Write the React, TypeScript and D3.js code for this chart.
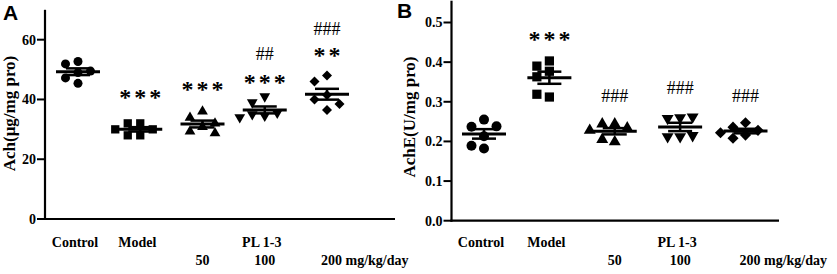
import React from "react";
import * as d3 from "d3";

// ---------- data ----------
const groups = ["Control", "Model", "PL50", "PL100", "PL200"];
const row1Labels = ["Control", "Model", "", "PL 1-3", ""];
const row2Labels = ["", "", "50", "100", "200 mg/kg/day"];
const shapes = ["circle", "square", "triangle", "triangleDown", "diamond"];

// Panel A: Ach (µg/mg pro)
const achControl = [52.7, 51.9, 49.0, 49.5, 47.2, 45.4];
const achModel = [32, 32, 30, 30, 28, 28];
const achPL50 = [36, 33.9, 30.8, 32, 29.3, 28.7];
const achPL100 = [41, 39, 34.5, 35, 35.5, 34];
const achPL200 = [48, 46, 41.5, 40, 38.5, 36.5];
const achTicks = [0, 20, 40, 60];
const achStars = ["", "***", "***", "***", "**"];
const achStarAt = [0, 42, 44.7, 47.2, 56.2];
const achHashes = ["", "", "", "##", "###"];
const achHashAt = [0, 0, 0, 55.3, 63.7];

// Panel B: AchE (U/mg pro)
const acheControl = [0.255, 0.237, 0.238, 0.213, 0.182, 0.189];
const acheModel = [0.403, 0.377, 0.39, 0.363, 0.312, 0.319];
const achePL50 = [0.244, 0.244, 0.234, 0.228, 0.199, 0.205];
const achePL100 = [0.26, 0.258, 0.262, 0.212, 0.212, 0.215];
const achePL200 = [0.247, 0.236, 0.228, 0.222, 0.216, 0.208];
const acheTicks = [0, 0.1, 0.2, 0.3, 0.4, 0.5];
const acheStars = ["", "***", "", "", ""];
const acheStarAt = [0, 0.468, 0, 0, 0];
const acheHashes = ["", "", "###", "###", "###"];
const acheHashAt = [0, 0, 0.314, 0.334, 0.314];

// ---------- styles ----------
const SERIF = "'Liberation Serif', 'Times New Roman', Times, serif";
const SANS = "'Liberation Sans', Arial, Helvetica, sans-serif";

type PanelCfg = {
  letter: string;
  letterX: number;
  letterY: number;
  yLabel: string;
  yLabelX: number;
  yLabelY: number;
  axisX: number;
  xEnd: number;
  yDomain: [number, number];
  yRange: [number, number];
  groupRange: [number, number];
  ticks: number[];
  tickFmt: (v: number) => string;
  values: number[][];
  stars: string[];
  starAt: number[];
  hashes: string[];
  hashAt: number[];
  markerSize: number;
  pitch: number;
};

function symbolPath(shape: string, size: number): { d: string; rot: number } {
  const area = size * size;
  switch (shape) {
    case "circle":
      return { d: d3.symbol(d3.symbolCircle, (Math.PI * area) / 4)() as string, rot: 0 };
    case "square":
      return { d: d3.symbol(d3.symbolSquare, area * 0.85)() as string, rot: 0 };
    case "triangle":
      return { d: d3.symbol(d3.symbolTriangle, area * 0.62)() as string, rot: 0 };
    case "triangleDown":
      return { d: d3.symbol(d3.symbolTriangle, area * 0.62)() as string, rot: 180 };
    default:
      return { d: d3.symbol(d3.symbolSquare, area * 0.62)() as string, rot: 45 };
  }
}

function dodge(vals: number[], y: (v: number) => number, pitch: number, h: number): number[] {
  const placed: { ox: number; py: number }[] = [];
  const out: number[] = [];
  const cands = [0, -1, 1, -2, 2, -3, 3];
  vals.forEach((v) => {
    const py = y(v);
    let chosen = 0;
    for (const c of cands) {
      const ox = c * pitch;
      const hit = placed.some((p) => Math.abs(p.ox - ox) < pitch * 0.8 && Math.abs(p.py - py) < h);
      if (!hit) {
        chosen = ox;
        break;
      }
    }
    placed.push({ ox: chosen, py });
    out.push(chosen);
  });
  return out;
}

function Panel({ cfg }: { cfg: PanelCfg }) {
  const y = d3.scaleLinear().domain(cfg.yDomain).range(cfg.yRange);
  const x = d3.scalePoint<string>().domain(groups).range(cfg.groupRange);
  const y0 = y(0);
  const starSize = 24;
  const hashSize = 18;

  return (
    <g>
      <text x={cfg.letterX} y={cfg.letterY} fontFamily={SANS} fontWeight="bold" fontSize={21} fill="#000">
        {cfg.letter}
      </text>
      <text
        transform={`translate(${cfg.yLabelX},${cfg.yLabelY}) rotate(-90)`}
        textAnchor="middle"
        fontFamily={SERIF}
        fontWeight="bold"
        fontSize={17}
        fill="#000"
      >
        {cfg.yLabel}
      </text>
      <line x1={cfg.axisX} x2={cfg.axisX} y1={cfg.yRange[1]} y2={y0 + 1} stroke="#000" strokeWidth={2.2} />
      <line x1={cfg.axisX - 1} x2={cfg.xEnd} y1={y0} y2={y0} stroke="#000" strokeWidth={2.2} />
      {cfg.ticks.map((t) => (
        <g key={t}>
          <line x1={cfg.axisX - 8} x2={cfg.axisX} y1={y(t)} y2={y(t)} stroke="#000" strokeWidth={2} />
          <text
            x={cfg.axisX - 9}
            y={y(t)}
            dy="0.35em"
            textAnchor="end"
            fontFamily={SERIF}
            fontWeight="bold"
            fontSize={14}
            fill="#000"
          >
            {cfg.tickFmt(t)}
          </text>
        </g>
      ))}
      {groups.map((g, i) => (
        <g key={g}>
          {row1Labels[i] && (
            <text
              x={x(g)! - 3}
              y={247}
              textAnchor="middle"
              fontFamily={SERIF}
              fontWeight="bold"
              fontSize={14}
              fill="#000"
            >
              {row1Labels[i]}
            </text>
          )}
          {row2Labels[i] && (
            <text
              x={i === groups.length - 1 ? x(g)! - 6 : x(g)!}
              y={265}
              textAnchor={i === groups.length - 1 ? "start" : "middle"}
              fontFamily={SERIF}
              fontWeight="bold"
              fontSize={14}
              fill="#000"
            >
              {row2Labels[i]}
            </text>
          )}
        </g>
      ))}
      {groups.map((g, i) => {
        const vals = cfg.values[i];
        const cx = x(g)!;
        const offs = dodge(vals, y, cfg.pitch, cfg.markerSize);
        const sym = symbolPath(shapes[i], cfg.markerSize);
        const mean = d3.mean(vals)!;
        const sem = d3.deviation(vals)! / Math.sqrt(vals.length);
        return (
          <g key={g}>
            {vals.map((v, j) => (
              <path
                key={j}
                d={sym.d}
                transform={`translate(${cx + offs[j]},${y(v)}) rotate(${sym.rot})`}
                fill="#000"
              />
            ))}
            <line x1={cx - 22} x2={cx + 22} y1={y(mean)} y2={y(mean)} stroke="#000" strokeWidth={3} />
            <line x1={cx} x2={cx} y1={y(mean + sem)} y2={y(mean - sem)} stroke="#000" strokeWidth={2.5} />
            <line x1={cx - 12} x2={cx + 12} y1={y(mean + sem)} y2={y(mean + sem)} stroke="#000" strokeWidth={2.5} />
            <line x1={cx - 12} x2={cx + 12} y1={y(mean - sem)} y2={y(mean - sem)} stroke="#000" strokeWidth={2.5} />
            {cfg.stars[i] && (
              <text
                x={cx + 1.5}
                y={y(cfg.starAt[i]) + starSize * 0.5}
                textAnchor="middle"
                fontFamily={SERIF}
                fontWeight="bold"
                fontSize={starSize}
                letterSpacing={3}
                fill="#000"
              >
                {cfg.stars[i]}
              </text>
            )}
            {cfg.hashes[i] && (
              <text
                x={cx}
                y={y(cfg.hashAt[i]) + hashSize * 0.34}
                textAnchor="middle"
                fontFamily={SERIF}
                fontSize={hashSize}
                fill="#000"
              >
                {cfg.hashes[i]}
              </text>
            )}
          </g>
        );
      })}
    </g>
  );
}

const panelA: PanelCfg = {
  letter: "A",
  letterX: 3,
  letterY: 20,
  yLabel: "Ach(μg/mg pro)",
  yLabelX: 15,
  yLabelY: 113.5,
  axisX: 45,
  xEnd: 395,
  yDomain: [0, 70],
  yRange: [219, 9.8],
  groupRange: [78, 327],
  ticks: achTicks,
  tickFmt: (v) => d3.format("d")(v),
  values: [achControl, achModel, achPL50, achPL100, achPL200],
  stars: achStars,
  starAt: achStarAt,
  hashes: achHashes,
  hashAt: achHashAt,
  markerSize: 9,
  pitch: 12.5,
};

const panelB: PanelCfg = {
  letter: "B",
  letterX: 397,
  letterY: 18,
  yLabel: "AchE(U/mg pro)",
  yLabelX: 415,
  yLabelY: 117,
  axisX: 451.5,
  xEnd: 779,
  yDomain: [0, 0.555],
  yRange: [220.7, 0.7],
  groupRange: [484, 745.5],
  ticks: acheTicks,
  tickFmt: (v) => d3.format(".1f")(v),
  values: [acheControl, acheModel, achePL50, achePL100, achePL200],
  stars: acheStars,
  starAt: acheStarAt,
  hashes: acheHashes,
  hashAt: acheHashAt,
  markerSize: 10,
  pitch: 12.5,
};

export default function App() {
  return (
    <>
      <style>{"body{margin:0;background:#fff}"}</style>
      <svg width={837} height={274} style={{ display: "block", background: "#fff" }}>
        <Panel cfg={panelA} />
        <Panel cfg={panelB} />
      </svg>
    </>
  );
}
